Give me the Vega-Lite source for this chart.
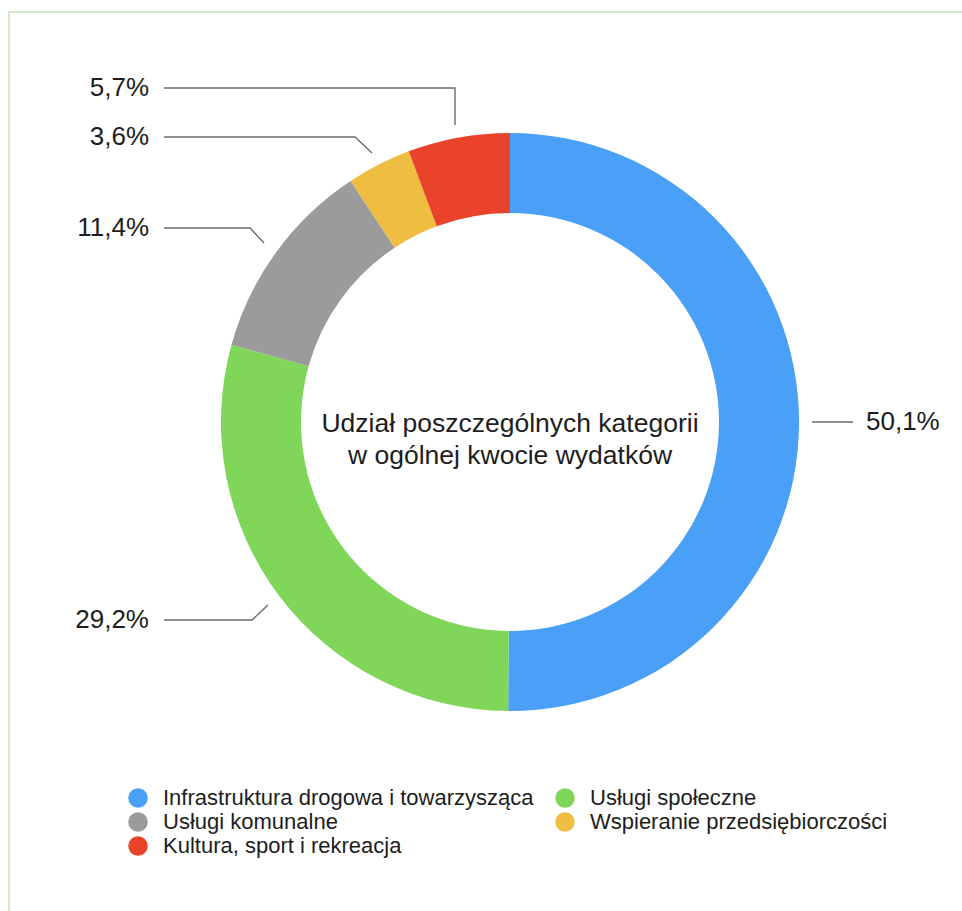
{
  "$schema": "https://vega.github.io/schema/vega-lite/v6.json",
  "autosize": {"type": "fit", "contains": "padding"},
  "width": 962,
  "height": 911,
  "padding": {"left": 9, "top": 12, "right": -10, "bottom": -10},
  "background": "white",
  "config": {
    "view": {"stroke": "#c8e4b9", "strokeWidth": 1.5},
    "font": "Liberation Sans",
    "legend": {
      "orient": "none",
      "legendX": 118,
      "legendY": 775,
      "columns": 2,
      "columnPadding": 20,
      "rowPadding": 2,
      "symbolType": "circle",
      "symbolSize": 380,
      "symbolStrokeWidth": 0,
      "symbolOpacity": 1,
      "labelFontSize": 22,
      "labelFont": "Liberation Sans",
      "labelColor": "#1d1d1d",
      "labelOffset": 14,
      "labelLimit": 0,
      "title": null
    }
  },
  "datasets": {
    "slices": [
      {"kategoria": "Infrastruktura drogowa i towarzysząca", "udzial": 50.1, "kolejnosc": 1},
      {"kategoria": "Usługi społeczne", "udzial": 29.2, "kolejnosc": 2},
      {"kategoria": "Usługi komunalne", "udzial": 11.4, "kolejnosc": 3},
      {"kategoria": "Wspieranie przedsiębiorczości", "udzial": 3.6, "kolejnosc": 4},
      {"kategoria": "Kultura, sport i rekreacja", "udzial": 5.7, "kolejnosc": 5}
    ],
    "leaders": [
      {"etykieta": "5,7%", "punkt": 1, "x": -346, "y": 334},
      {"etykieta": "5,7%", "punkt": 2, "x": -55, "y": 334},
      {"etykieta": "5,7%", "punkt": 3, "x": -55, "y": 297},
      {"etykieta": "3,6%", "punkt": 1, "x": -346, "y": 285},
      {"etykieta": "3,6%", "punkt": 2, "x": -155, "y": 285},
      {"etykieta": "3,6%", "punkt": 3, "x": -138, "y": 269},
      {"etykieta": "11,4%", "punkt": 1, "x": -346, "y": 194},
      {"etykieta": "11,4%", "punkt": 2, "x": -260, "y": 194},
      {"etykieta": "11,4%", "punkt": 3, "x": -246, "y": 179},
      {"etykieta": "29,2%", "punkt": 1, "x": -346, "y": -198},
      {"etykieta": "29,2%", "punkt": 2, "x": -258, "y": -198},
      {"etykieta": "29,2%", "punkt": 3, "x": -242, "y": -183},
      {"etykieta": "50,1%", "punkt": 1, "x": 302, "y": 0},
      {"etykieta": "50,1%", "punkt": 2, "x": 343, "y": 0}
    ],
    "labels": [
      {"etykieta": "5,7%", "x": -361, "y": 334, "strona": "lewa"},
      {"etykieta": "3,6%", "x": -361, "y": 285, "strona": "lewa"},
      {"etykieta": "11,4%", "x": -361, "y": 194, "strona": "lewa"},
      {"etykieta": "29,2%", "x": -361, "y": -198, "strona": "lewa"},
      {"etykieta": "50,1%", "x": 356, "y": 0, "strona": "prawa"}
    ]
  },
  "layer": [
    {
      "data": {"name": "slices"},
      "mark": {"type": "arc", "outerRadius": 289, "innerRadius": 209},
      "encoding": {
        "x": {"datum": 0, "type": "quantitative", "scale": {"domain": [-501, 462], "nice": false, "zero": false}, "axis": null},
        "y": {"datum": 0, "type": "quantitative", "scale": {"domain": [-499, 410], "nice": false, "zero": false}, "axis": null},
        "theta": {"field": "udzial", "type": "quantitative", "stack": true},
        "order": {"field": "kolejnosc", "type": "quantitative"},
        "color": {
          "field": "kategoria",
          "type": "nominal",
          "scale": {
            "domain": ["Infrastruktura drogowa i towarzysząca", "Usługi komunalne", "Kultura, sport i rekreacja", "Usługi społeczne", "Wspieranie przedsiębiorczości"],
            "range": ["#4a9ff6", "#9b9b9b", "#e9432b", "#7fd658", "#efbd42"]
          },
          "legend": {}
        }
      }
    },
    {
      "data": {"name": "leaders"},
      "mark": {"type": "line", "color": "#6b6b6b", "strokeWidth": 1.4},
      "encoding": {
        "x": {"field": "x", "type": "quantitative"},
        "y": {"field": "y", "type": "quantitative"},
        "detail": {"field": "etykieta"},
        "order": {"field": "punkt", "type": "quantitative"}
      }
    },
    {
      "data": {"name": "labels"},
      "transform": [{"filter": "datum.strona === 'lewa'"}],
      "mark": {"type": "text", "align": "right", "baseline": "middle", "fontSize": 26, "color": "#1d1d1d", "font": "Liberation Sans"},
      "encoding": {
        "x": {"field": "x", "type": "quantitative"},
        "y": {"field": "y", "type": "quantitative"},
        "text": {"field": "etykieta"}
      }
    },
    {
      "data": {"name": "labels"},
      "transform": [{"filter": "datum.strona === 'prawa'"}],
      "mark": {"type": "text", "align": "left", "baseline": "middle", "fontSize": 26, "color": "#1d1d1d", "font": "Liberation Sans"},
      "encoding": {
        "x": {"field": "x", "type": "quantitative"},
        "y": {"field": "y", "type": "quantitative"},
        "text": {"field": "etykieta"}
      }
    },
    {
      "data": {"values": [{"tytul": "Udział poszczególnych kategorii|w ogólnej kwocie wydatków"}]},
      "mark": {"type": "text", "align": "center", "baseline": "middle", "fontSize": 26.5, "lineHeight": 32, "lineBreak": "|", "color": "#1d1d1d", "font": "Liberation Sans"},
      "encoding": {
        "x": {"datum": 0, "type": "quantitative"},
        "y": {"datum": -2, "type": "quantitative"},
        "text": {"field": "tytul"}
      }
    }
  ]
}
